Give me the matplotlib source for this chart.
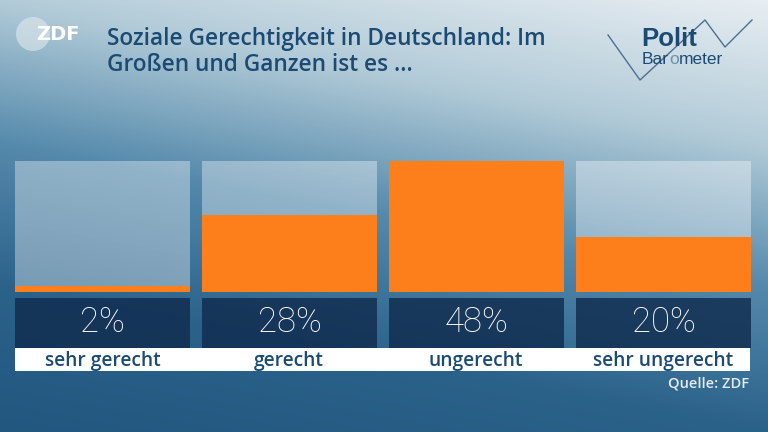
import numpy as np
import matplotlib
matplotlib.use("Agg")
import matplotlib.pyplot as plt
from matplotlib.colors import LinearSegmentedColormap
from matplotlib.patches import Circle

# ---- data ----
categories = ["sehr gerecht", "gerecht", "ungerecht", "sehr ungerecht"]
values = [2, 28, 48, 20]
value_labels = ["2%", "28%", "48%", "20%"]
title = "Soziale Gerechtigkeit in Deutschland: Im\nGroßen und Ganzen ist es ..."
source = "Quelle: ZDF"

W, H = 768, 432
fig = plt.figure(figsize=(W / 100, H / 100), dpi=100)

# ---- background gradient ----
bg = fig.add_axes([0, 0, 1, 1], zorder=-10)
yy, xx = np.mgrid[0:H, 0:W]
v = yy / H * 1.0 + (1 - xx / W) * 0.33
cmap = LinearSegmentedColormap.from_list(
    "bg",
    [(0.0, "#e7eef2"), (0.25, "#b2cbd8"), (0.5, "#5489ab"),
     (0.75, "#2b628a"), (1.0, "#225780")])
bg.imshow(v / 1.33, cmap=cmap, vmin=0, vmax=1, aspect="auto",
          extent=[0, W, H, 0], interpolation="bilinear")
bg.set_xlim(0, W)
bg.set_ylim(H, 0)
bg.axis("off")

def fx(px):
    return px / W

def fy(py):
    return 1 - py / H

navy = "#1b4a73"
orange = "#fd7f1c"

# ---- bar panels ----
pitch = 187.0
bw = 175.0 / pitch
x = np.arange(len(categories))
left, right = 15, 751
ax = fig.add_axes([fx(left), fy(291.5), fx(right - left), (291.5 - 161) / H])
vmax = max(values)
ax.bar(x, [vmax] * len(x), width=bw, color="white", alpha=0.36, linewidth=0)
ax.bar(x, values, width=bw, color=orange, linewidth=0)
ax.set_xlim(-bw / 2, x[-1] + bw / 2)
ax.set_ylim(0, vmax)
ax.axis("off")

# ---- value boxes ----
ax2 = fig.add_axes([fx(left), fy(348), fx(right - left), (348 - 297.5) / H])
ax2.bar(x, [1] * len(x), width=bw, color="#0f2a4d", alpha=0.8, linewidth=0)
for xi, lab in zip(x, value_labels):
    ax2.text(xi, 0.5, lab, ha="center", va="center", color="white",
             fontsize=25, fontfamily="Roboto", fontweight="light")
ax2.set_xlim(-bw / 2, x[-1] + bw / 2)
ax2.set_ylim(0, 1)
ax2.axis("off")

# ---- label strip ----
ax3 = fig.add_axes([fx(left), fy(370.7), fx(right - 1 - left), (370.7 - 348) / H])
ax3.set_facecolor("white")
ax3.set_xticks([])
ax3.set_yticks([])
for s in ax3.spines.values():
    s.set_visible(False)
ax3.set_xlim(-bw / 2, x[-1] + bw / 2)
ax3.set_ylim(0, 1)
for xi, cat in zip(x, categories):
    ax3.text(xi, 0.42, cat, ha="center", va="center", color=navy,
             fontsize=13.8, fontfamily="Open Sans", fontweight="semibold")

# ---- title ----
fig.text(fx(107), fy(27), title, ha="left", va="top", color=navy,
         fontsize=16.3, fontfamily="Open Sans", fontweight="semibold",
         linespacing=1.1)

# ---- source ----
fig.text(fx(749), fy(384), source, ha="right", va="center", color="#e3ebf0",
         fontsize=10.5, fontfamily="Open Sans", fontweight="semibold")

# ---- logos (pixel-coordinate overlay) ----
logo = fig.add_axes([0, 0, 1, 1], zorder=5)
logo.set_xlim(0, W)
logo.set_ylim(H, 0)
logo.axis("off")
logo.add_patch(Circle((33, 34), 17, facecolor="#e6edf1", alpha=0.55,
                      edgecolor="none"))
logo.text(36, 35, "ZDF", ha="left", va="center", color="white",
          fontsize=14, fontfamily="DejaVu Sans", fontweight="bold")

zx = [608, 640, 705, 725, 752]
zy = [35, 80, 20, 47, 20]
logo.plot(zx, zy, color="#4d7090", lw=1.0)
logo.text(641, 46, "Polit", ha="left", va="baseline", color="#1b4a73",
          fontsize=18.5, fontfamily="Liberation Sans", fontweight="bold")
t1 = logo.text(642, 64, "Bar", ha="left", va="baseline", color="#1b4a73",
               fontsize=12.5, fontfamily="Liberation Sans")
t2 = logo.annotate("o", xy=(1, 0), xycoords=t1, ha="left", va="bottom",
                   color="#6f90aa", fontsize=12.5, fontfamily="Liberation Sans")
logo.annotate("meter", xy=(1, 0), xycoords=t2, ha="left", va="bottom",
              color="#1b4a73", fontsize=12.5, fontfamily="Liberation Sans")

fig.savefig("out.png", dpi=100)
